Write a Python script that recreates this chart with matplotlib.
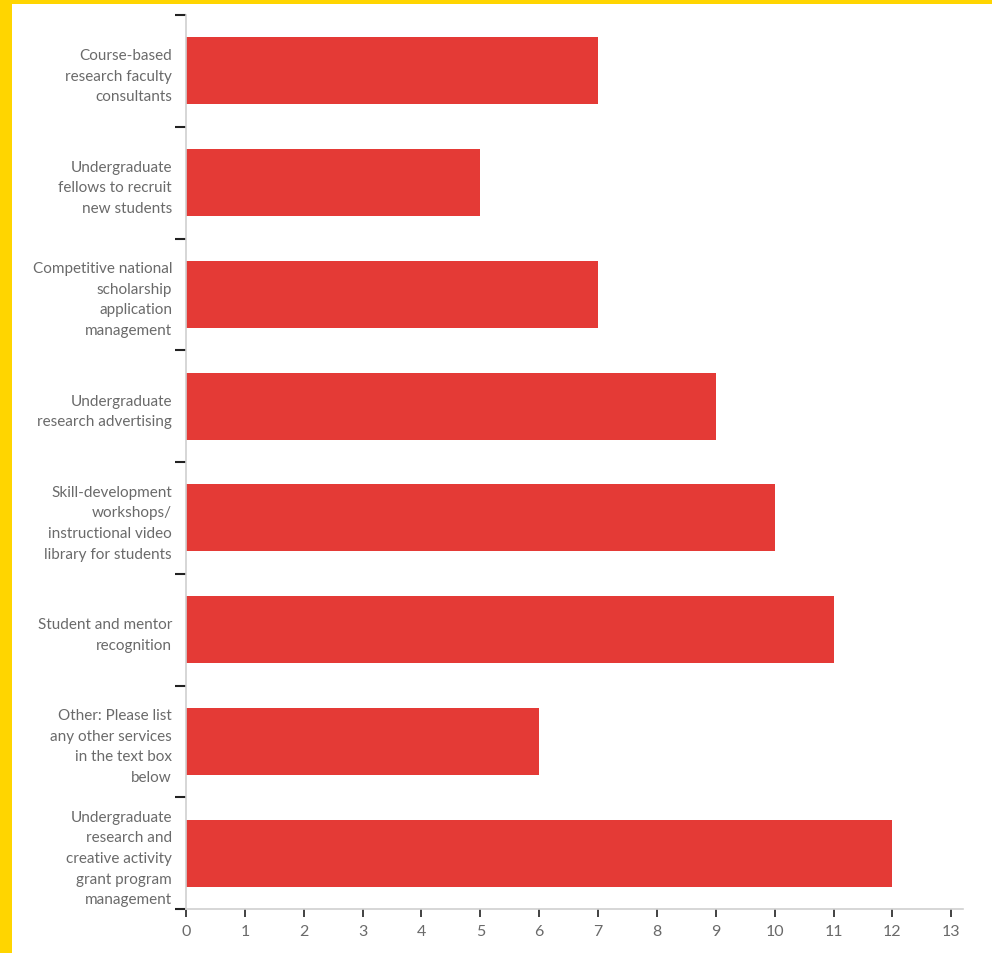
import matplotlib
matplotlib.use("Agg")
import matplotlib.pyplot as plt
from matplotlib.patches import Rectangle

categories = [
    "Course-based\nresearch faculty\nconsultants",
    "Undergraduate\nfellows to recruit\nnew students",
    "Competitive national\nscholarship\napplication\nmanagement",
    "Undergraduate\nresearch advertising",
    "Skill-development\nworkshops/\ninstructional video\nlibrary for students",
    "Student and mentor\nrecognition",
    "Other: Please list\nany other services\nin the text box\nbelow",
    "Undergraduate\nresearch and\ncreative activity\ngrant program\nmanagement",
]
values = [7, 5, 7, 9, 10, 11, 6, 12]
xticks = list(range(0, 14))

plt.rcParams['font.family'] = ['Lato', 'DejaVu Sans']

W, H = 992, 954
fig = plt.figure(figsize=(W/100, H/100), dpi=100)
fig.patch.set_facecolor("#FFD500")
fig.add_artist(Rectangle((12/W, 0), 1, 1 - 5/H, transform=fig.transFigure,
                         facecolor="white", edgecolor="none", zorder=0))

ax = fig.add_axes([186/W, 1 - 910/H, (963-186)/W, (910-16)/H])
ax.set_facecolor("white")
y = list(range(len(categories)))
ax.barh(y, values, height=0.6, color="#E43A36", zorder=2)
ax.set_ylim(len(categories) - 0.5, -0.5)
ax.set_xlim(0, 13.2)
ax.set_yticks(y)
ax.set_yticklabels(categories, fontsize=11, color="#6a6a6a", ha="right",
                   multialignment="right", linespacing=1.6)
ax.set_yticks([i - 0.5 for i in range(len(categories) + 1)], minor=True)
ax.tick_params(axis="y", which="major", length=0, pad=10)
ax.tick_params(axis="y", which="minor", length=8, width=1.5, color="#222222", direction="out")
ax.set_xticks(xticks)
ax.set_xticklabels([str(t) for t in xticks], fontsize=11.5, color="#6a6a6a")
ax.tick_params(axis="x", length=6, width=1.2, color="#222222", pad=5)
for s in ["top", "right"]:
    ax.spines[s].set_visible(False)
ax.spines["left"].set_color("#D0D0D0")
ax.spines["bottom"].set_color("#D0D0D0")
ax.spines["left"].set_linewidth(1.2)
ax.spines["bottom"].set_linewidth(1.2)

fig.savefig("out.png", dpi=100, facecolor=fig.get_facecolor())
